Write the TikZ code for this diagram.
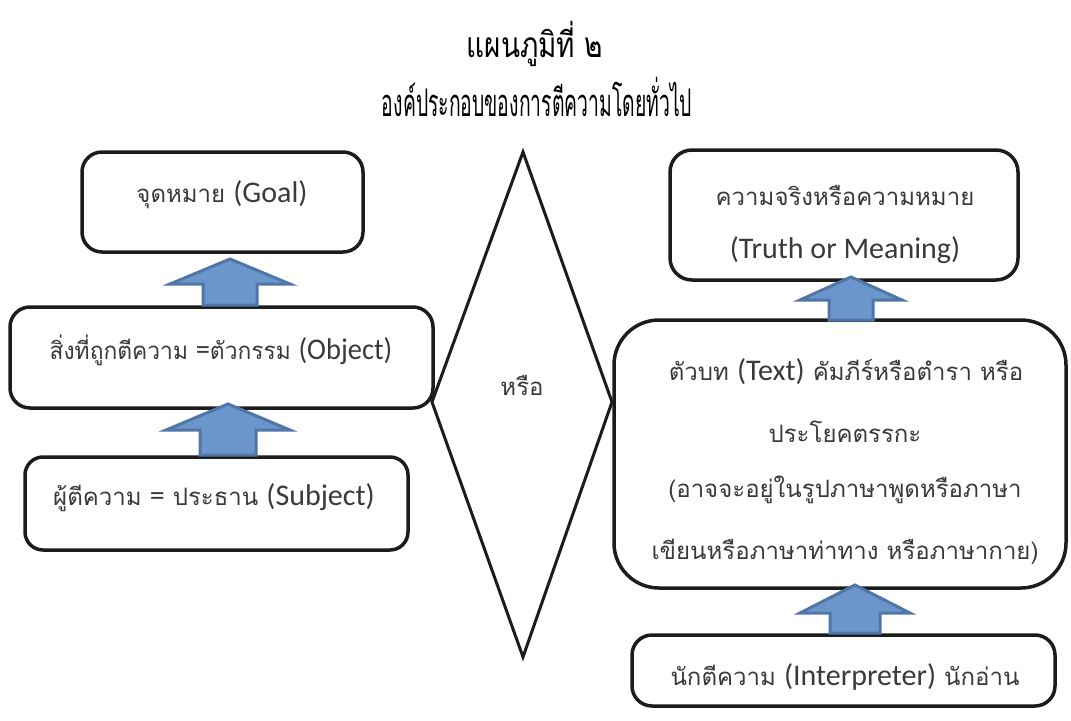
\documentclass[tikz,border=0pt]{standalone}
\usepackage{fontspec}
\usepackage{graphicx}
\newfontfamily\thai[Script=Thai]{Loma}
\newfontfamily\lat{Carlito}
\newcommand\en[1]{{\lat\fontsize{22.5}{26}\selectfont #1}}
\newlength\pxu
\setlength\pxu{0.75pt}
\definecolor{boxline}{RGB}{28,28,28}
\definecolor{arrfill}{RGB}{107,150,203}
\definecolor{arrline}{RGB}{80,118,168}
\definecolor{txtgray}{RGB}{58,58,58}
\tikzset{
  box/.style={draw=boxline, line width=3.5\pxu, rectangle, rounded corners=20\pxu, inner sep=0pt},
  txt/.style={text=txtgray, inner sep=0pt, font=\thai\fontsize{18}{22}\selectfont},
  ttl/.style={text=black, inner sep=0pt, font=\thai\fontsize{22}{26}\selectfont},
  blk/.style={fill=arrfill, draw=arrline, line width=3\pxu, line join=miter},
  dia/.style={draw=boxline, line width=3\pxu, line join=miter}
}
\newcommand\blockarrow[6]{% cx, tip y, head base y, bottom y, half head, half shaft
  \draw[blk] (#1,#2) -- (#1+#5,#3) -- (#1+#6,#3) -- (#1+#6,#4) -- (#1-#6,#4) -- (#1-#6,#3) -- (#1-#5,#3) -- cycle;}
\begin{document}
\begin{tikzpicture}[x=0.75pt,y=-0.75pt]
\useasboundingbox (0,0) rectangle (1071,721);
% title
\node[ttl] (t1) at (535,44) {\scalebox{0.95}[1.2]{แผนภูมิที่ ๒}};
\node[ttl] (t2) at (537,97) {\scalebox{0.66}[1.3]{องค์ประกอบของการตีความโดยทั่วไป}};
% left column boxes
\node[box, minimum width=281\pxu, minimum height=100\pxu] (goal) at (222.5,202) {};
\node[txt] (goalt) at (222,195) {จุดหมาย \en{(Goal)}};
\node[box, minimum width=423\pxu, minimum height=101\pxu] (obj) at (221.5,357.5) {};
\node[txt] (objt) at (221,350) {\scalebox{0.95}[1]{สิ่งที่ถูกตีความ \en{=}ตัวกรรม \en{(Object)}}};
\node[box, minimum width=383\pxu, minimum height=93\pxu, rounded corners=18\pxu] (subj) at (216.5,503.5) {};
\node[txt] (subjt) at (214,498) {ผู้ตีความ \en{=} ประธาน \en{(Subject)}};
% diamond
\coordinate (dtop) at (523,152);
\coordinate (dright) at (612,402);
\coordinate (dbot) at (523,657);
\coordinate (dleft) at (432,402);
\draw[dia] (dtop) -- (dright) -- (dbot) -- (dleft) -- cycle;
\node[txt] (orr) at (522,385) {หรือ};
% right column boxes
\node[box, minimum width=348\pxu, minimum height=130\pxu, rounded corners=22\pxu] (truth) at (844,215) {};
\node[txt] (trutha) at (845,195) {ความจริงหรือความหมาย};
\node[txt] (truthb) at (845,250) {\en{(Truth or Meaning)}};
\node[box, minimum width=452\pxu, minimum height=268\pxu, rounded corners=45\pxu] (textb) at (840,454) {};
\node[txt] (texta) at (846,372) {ตัวบท \en{(Text)} คัมภีร์หรือตำรา หรือ};
\node[txt] (textbb) at (845,432) {ประโยคตรรกะ};
\node[txt] (textc) at (845,490) {(อาจจะอยู่ในรูปภาษาพูดหรือภาษา};
\node[txt] (textd) at (845,552) {เขียนหรือภาษาท่าทาง หรือภาษากาย)};
\node[box, minimum width=423\pxu, minimum height=71\pxu] (interp) at (843.5,670.5) {};
\node[txt] (interpt) at (845,677) {นักตีความ \en{(Interpreter)} นักอ่าน};
% block arrows
\blockarrow{230}{259}{284}{305}{60}{27}
\blockarrow{228}{404}{430}{455}{62}{28}
\blockarrow{851}{277}{300}{320}{51}{22}
\blockarrow{855}{585}{613}{633}{55}{25}
\end{tikzpicture}
\end{document}
